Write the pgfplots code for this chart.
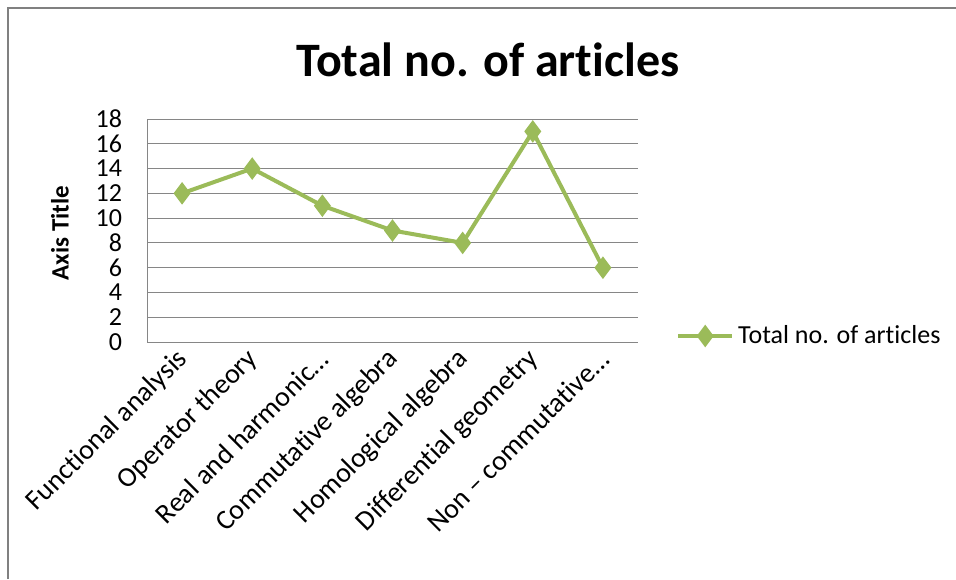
\documentclass[border=0pt]{standalone}
\usepackage{pgfplots}
\pgfplotsset{compat=1.18}
\usepackage{fontspec}
\setmainfont{Carlito}[RawFeature={-liga;-clig;-calt;-dlig}]
\definecolor{exgreen}{RGB}{155,187,89}
\definecolor{gridgray}{RGB}{134,134,134}
\definecolor{framegray}{RGB}{128,128,128}
\begin{document}
\begin{tikzpicture}
\useasboundingbox (0pt,0pt) rectangle (478pt,289.5pt);
\draw[framegray, line width=1.2pt] (4pt,0pt) -- (4pt,285.5pt) -- (478pt,285.5pt);
\node[font=\fontsize{24}{28}\selectfont\bfseries] at (244pt,259.5pt) {Total no. of articles};
\node[font=\fontsize{12.5}{15}\selectfont\bfseries, rotate=90] at (30pt,173pt) {Axis Title};
\begin{axis}[
  at={(73.5pt,118.5pt)}, anchor=south west,
  scale only axis, width=245.5pt, height=111.5pt,
  xmin=-0.5, xmax=6.5, ymin=0, ymax=18,
  xtick={0,...,6},
  xticklabels={Functional analysis, Operator theory, Real and harmonic…, Commutative algebra, Homological algebra, Differential geometry, Non – commutative…},
  xticklabel shift=4pt,
  x tick label style={xshift=3pt, rotate=45, anchor=east, font=\fontsize{14}{16}\selectfont},
  ytick={0,2,...,18},
  y tick label style={font=\fontsize{13}{15}\selectfont, xshift=-9pt},
  /pgf/number format/assume math mode=true,
  major tick length=0pt,
  axis x line*=bottom, axis y line*=left,
  axis line style={gridgray, line width=0.5pt, -},
  ymajorgrids, grid style={gridgray, line width=0.5pt},
  legend style={draw=none, fill=none, at={(1.077,0.027)}, anchor=west, inner sep=0pt,
    font=\fontsize{13}{15}\selectfont, cells={anchor=west}},
  legend image code/.code={\draw[mark repeat=2, mark phase=2, #1] plot coordinates {(0pt,0pt) (13.5pt,0pt) (27pt,0pt)};},
]
\addplot[exgreen, line width=2pt, mark=diamond*, mark size=4pt, mark options={solid, fill=exgreen}]
  coordinates {(0,12) (1,14) (2,11) (3,9) (4,8) (5,17) (6,6)};
\addlegendentry{Total no. of articles}
\end{axis}
\end{tikzpicture}
\end{document}
